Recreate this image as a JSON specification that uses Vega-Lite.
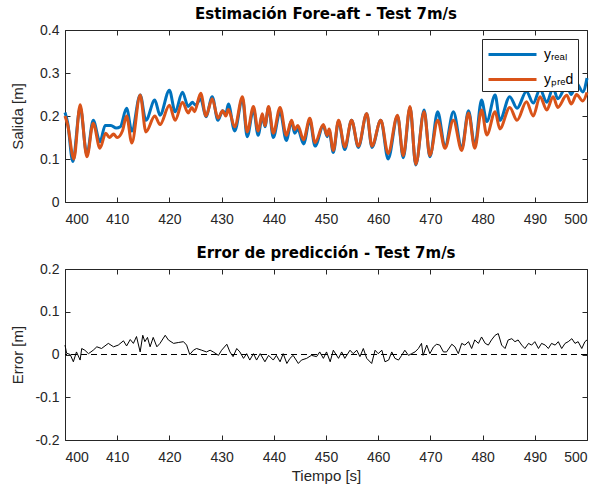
{
  "$schema": "https://vega.github.io/schema/vega-lite/v6.json",
  "padding": {"left": 9, "top": 6, "right": 5, "bottom": 5},
  "background": "white",
  "config": {
    "font": "Liberation Sans",
    "view": {"stroke": "#262626", "strokeWidth": 1},
    "axis": {"domain": false, "grid": false, "tickSize": -5, "tickColor": "#262626", "tickWidth": 1, "labelColor": "#262626", "labelFontSize": 14, "labelFont": "Liberation Sans", "titleFont": "Liberation Sans", "titleFontSize": 15, "titleFontWeight": "normal", "titleColor": "#262626"},
    "axisX": {"labelPadding": 15, "minExtent": 24, "maxExtent": 24},
    "axisY": {"labelPadding": 11, "minExtent": 34, "maxExtent": 34, "titlePadding": 6},
    "title": {"fontSize": 15, "fontWeight": "bold", "font": "DejaVu Sans", "color": "#000000", "anchor": "middle", "offset": 1}
  },
  "spacing": 18,
  "datasets": {
    "top": [
      {"t":400.0,"v":0.208,"s":"real"},{"t":400.5,"v":0.185,"s":"real"},{"t":401.5,"v":0.094,"s":"real"},{"t":402.9,"v":0.22,"s":"real"},{"t":404.2,"v":0.11,"s":"real"},{"t":405.4,"v":0.19,"s":"real"},{"t":406.7,"v":0.14,"s":"real"},{"t":407.7,"v":0.178,"s":"real"},{"t":408.8,"v":0.178,"s":"real"},{"t":409.8,"v":0.172,"s":"real"},{"t":410.6,"v":0.175,"s":"real"},{"t":411.8,"v":0.218,"s":"real"},{"t":412.8,"v":0.165,"s":"real"},{"t":414.4,"v":0.249,"s":"real"},{"t":415.5,"v":0.19,"s":"real"},{"t":417.2,"v":0.237,"s":"real"},{"t":418.2,"v":0.202,"s":"real"},{"t":420.0,"v":0.26,"s":"real"},{"t":421.1,"v":0.21,"s":"real"},{"t":422.5,"v":0.255,"s":"real"},{"t":423.6,"v":0.222,"s":"real"},{"t":424.4,"v":0.232,"s":"real"},{"t":425.0,"v":0.225,"s":"real"},{"t":426.0,"v":0.24,"s":"real"},{"t":427.0,"v":0.198,"s":"real"},{"t":428.2,"v":0.245,"s":"real"},{"t":429.3,"v":0.19,"s":"real"},{"t":430.2,"v":0.212,"s":"real"},{"t":430.8,"v":0.205,"s":"real"},{"t":431.3,"v":0.228,"s":"real"},{"t":432.5,"v":0.165,"s":"real"},{"t":434.0,"v":0.24,"s":"real"},{"t":434.9,"v":0.152,"s":"real"},{"t":436.1,"v":0.215,"s":"real"},{"t":437.0,"v":0.155,"s":"real"},{"t":437.8,"v":0.2,"s":"real"},{"t":438.3,"v":0.175,"s":"real"},{"t":439.0,"v":0.22,"s":"real"},{"t":439.9,"v":0.15,"s":"real"},{"t":441.2,"v":0.21,"s":"real"},{"t":442.4,"v":0.143,"s":"real"},{"t":443.4,"v":0.188,"s":"real"},{"t":444.0,"v":0.16,"s":"real"},{"t":444.6,"v":0.17,"s":"real"},{"t":445.7,"v":0.135,"s":"real"},{"t":446.9,"v":0.19,"s":"real"},{"t":447.9,"v":0.13,"s":"real"},{"t":449.5,"v":0.178,"s":"real"},{"t":450.2,"v":0.152,"s":"real"},{"t":450.6,"v":0.165,"s":"real"},{"t":451.4,"v":0.115,"s":"real"},{"t":452.4,"v":0.188,"s":"real"},{"t":453.6,"v":0.122,"s":"real"},{"t":454.9,"v":0.19,"s":"real"},{"t":456.2,"v":0.127,"s":"real"},{"t":457.8,"v":0.205,"s":"real"},{"t":458.8,"v":0.127,"s":"real"},{"t":460.5,"v":0.19,"s":"real"},{"t":461.9,"v":0.1,"s":"real"},{"t":463.7,"v":0.2,"s":"real"},{"t":464.8,"v":0.103,"s":"real"},{"t":466.1,"v":0.22,"s":"real"},{"t":467.2,"v":0.086,"s":"real"},{"t":468.8,"v":0.214,"s":"real"},{"t":469.9,"v":0.105,"s":"real"},{"t":471.4,"v":0.21,"s":"real"},{"t":472.8,"v":0.128,"s":"real"},{"t":474.4,"v":0.21,"s":"real"},{"t":476.0,"v":0.125,"s":"real"},{"t":477.3,"v":0.212,"s":"real"},{"t":478.5,"v":0.13,"s":"real"},{"t":479.8,"v":0.237,"s":"real"},{"t":480.8,"v":0.187,"s":"real"},{"t":482.4,"v":0.249,"s":"real"},{"t":483.3,"v":0.19,"s":"real"},{"t":485.2,"v":0.245,"s":"real"},{"t":486.6,"v":0.218,"s":"real"},{"t":488.4,"v":0.257,"s":"real"},{"t":489.7,"v":0.23,"s":"real"},{"t":491.0,"v":0.262,"s":"real"},{"t":492.3,"v":0.232,"s":"real"},{"t":493.5,"v":0.265,"s":"real"},{"t":494.4,"v":0.24,"s":"real"},{"t":496.1,"v":0.27,"s":"real"},{"t":497.0,"v":0.25,"s":"real"},{"t":498.0,"v":0.276,"s":"real"},{"t":499.2,"v":0.256,"s":"real"},{"t":500.0,"v":0.288,"s":"real"},
      {"t":400.0,"v":0.2,"s":"pred"},{"t":400.5,"v":0.18,"s":"pred"},{"t":401.7,"v":0.1,"s":"pred"},{"t":402.9,"v":0.226,"s":"pred"},{"t":404.2,"v":0.105,"s":"pred"},{"t":405.4,"v":0.183,"s":"pred"},{"t":406.7,"v":0.125,"s":"pred"},{"t":407.8,"v":0.16,"s":"pred"},{"t":408.5,"v":0.15,"s":"pred"},{"t":409.3,"v":0.158,"s":"pred"},{"t":410.0,"v":0.15,"s":"pred"},{"t":411.0,"v":0.165,"s":"pred"},{"t":411.8,"v":0.2,"s":"pred"},{"t":412.8,"v":0.137,"s":"pred"},{"t":414.4,"v":0.249,"s":"pred"},{"t":415.5,"v":0.163,"s":"pred"},{"t":417.2,"v":0.2,"s":"pred"},{"t":418.2,"v":0.18,"s":"pred"},{"t":420.0,"v":0.225,"s":"pred"},{"t":421.1,"v":0.19,"s":"pred"},{"t":422.5,"v":0.232,"s":"pred"},{"t":423.6,"v":0.207,"s":"pred"},{"t":424.3,"v":0.22,"s":"pred"},{"t":424.8,"v":0.21,"s":"pred"},{"t":426.0,"v":0.253,"s":"pred"},{"t":427.0,"v":0.2,"s":"pred"},{"t":428.2,"v":0.24,"s":"pred"},{"t":429.3,"v":0.195,"s":"pred"},{"t":430.2,"v":0.212,"s":"pred"},{"t":430.8,"v":0.2,"s":"pred"},{"t":431.3,"v":0.215,"s":"pred"},{"t":432.5,"v":0.175,"s":"pred"},{"t":434.0,"v":0.245,"s":"pred"},{"t":434.9,"v":0.163,"s":"pred"},{"t":436.1,"v":0.222,"s":"pred"},{"t":437.0,"v":0.165,"s":"pred"},{"t":437.8,"v":0.205,"s":"pred"},{"t":438.3,"v":0.178,"s":"pred"},{"t":439.0,"v":0.222,"s":"pred"},{"t":439.9,"v":0.16,"s":"pred"},{"t":441.2,"v":0.22,"s":"pred"},{"t":442.4,"v":0.155,"s":"pred"},{"t":443.4,"v":0.19,"s":"pred"},{"t":444.0,"v":0.168,"s":"pred"},{"t":444.6,"v":0.178,"s":"pred"},{"t":445.7,"v":0.145,"s":"pred"},{"t":446.9,"v":0.195,"s":"pred"},{"t":447.9,"v":0.138,"s":"pred"},{"t":449.5,"v":0.18,"s":"pred"},{"t":450.2,"v":0.155,"s":"pred"},{"t":450.6,"v":0.17,"s":"pred"},{"t":451.4,"v":0.12,"s":"pred"},{"t":452.4,"v":0.19,"s":"pred"},{"t":453.6,"v":0.128,"s":"pred"},{"t":454.9,"v":0.19,"s":"pred"},{"t":456.2,"v":0.13,"s":"pred"},{"t":457.8,"v":0.206,"s":"pred"},{"t":458.8,"v":0.13,"s":"pred"},{"t":460.5,"v":0.19,"s":"pred"},{"t":461.9,"v":0.113,"s":"pred"},{"t":463.7,"v":0.202,"s":"pred"},{"t":464.8,"v":0.108,"s":"pred"},{"t":466.1,"v":0.222,"s":"pred"},{"t":467.2,"v":0.088,"s":"pred"},{"t":468.8,"v":0.21,"s":"pred"},{"t":469.9,"v":0.108,"s":"pred"},{"t":471.4,"v":0.19,"s":"pred"},{"t":472.8,"v":0.125,"s":"pred"},{"t":474.4,"v":0.19,"s":"pred"},{"t":476.0,"v":0.12,"s":"pred"},{"t":477.3,"v":0.207,"s":"pred"},{"t":478.5,"v":0.125,"s":"pred"},{"t":479.8,"v":0.214,"s":"pred"},{"t":480.8,"v":0.156,"s":"pred"},{"t":482.4,"v":0.21,"s":"pred"},{"t":483.3,"v":0.17,"s":"pred"},{"t":485.2,"v":0.22,"s":"pred"},{"t":486.6,"v":0.19,"s":"pred"},{"t":488.4,"v":0.233,"s":"pred"},{"t":489.7,"v":0.2,"s":"pred"},{"t":491.0,"v":0.245,"s":"pred"},{"t":492.3,"v":0.214,"s":"pred"},{"t":493.5,"v":0.245,"s":"pred"},{"t":494.4,"v":0.22,"s":"pred"},{"t":496.1,"v":0.248,"s":"pred"},{"t":497.0,"v":0.228,"s":"pred"},{"t":498.0,"v":0.25,"s":"pred"},{"t":499.2,"v":0.235,"s":"pred"},{"t":500.0,"v":0.255,"s":"pred"}
    ],
    "err": [
      {"t":400.0,"e":0.022},{"t":400.3,"e":0.003},{"t":401.0,"e":0.0},{"t":401.6,"e":-0.017},{"t":402.2,"e":0.006},{"t":402.9,"e":-0.013},{"t":403.2,"e":0.014},{"t":403.8,"e":0.01},{"t":404.5,"e":0.002},{"t":405.4,"e":0.01},{"t":406.1,"e":0.018},{"t":407.0,"e":0.014},{"t":408.3,"e":0.026},{"t":409.3,"e":0.018},{"t":410.2,"e":0.022},{"t":411.2,"e":0.032},{"t":411.8,"e":0.02},{"t":412.5,"e":0.035},{"t":413.1,"e":0.026},{"t":413.7,"e":0.042},{"t":414.4,"e":0.006},{"t":414.9,"e":0.045},{"t":415.3,"e":0.03},{"t":415.8,"e":0.04},{"t":416.3,"e":0.018},{"t":416.9,"e":0.04},{"t":417.6,"e":0.018},{"t":418.2,"e":0.026},{"t":419.2,"e":0.045},{"t":419.8,"e":0.034},{"t":420.8,"e":0.026},{"t":421.7,"e":0.028},{"t":422.7,"e":0.03},{"t":423.3,"e":0.022},{"t":423.9,"e":0.0},{"t":424.6,"e":0.01},{"t":425.2,"e":0.014},{"t":426.2,"e":0.01},{"t":427.1,"e":0.006},{"t":427.8,"e":0.01},{"t":428.4,"e":0.006},{"t":429.4,"e":-0.002},{"t":430.0,"e":0.01},{"t":431.0,"e":0.024},{"t":431.6,"e":0.006},{"t":432.2,"e":-0.005},{"t":432.9,"e":0.014},{"t":433.5,"e":0.006},{"t":434.2,"e":-0.009},{"t":434.8,"e":0.002},{"t":435.4,"e":-0.013},{"t":436.1,"e":0.002},{"t":436.7,"e":-0.013},{"t":437.4,"e":0.002},{"t":438.3,"e":-0.017},{"t":439.0,"e":-0.002},{"t":439.9,"e":-0.013},{"t":440.5,"e":-0.002},{"t":441.2,"e":-0.017},{"t":441.8,"e":0.002},{"t":442.5,"e":-0.021},{"t":443.1,"e":-0.009},{"t":443.7,"e":-0.002},{"t":444.7,"e":-0.021},{"t":445.3,"e":-0.013},{"t":446.3,"e":-0.009},{"t":447.2,"e":-0.002},{"t":448.2,"e":-0.005},{"t":448.8,"e":0.006},{"t":449.5,"e":-0.009},{"t":450.1,"e":0.006},{"t":450.8,"e":-0.017},{"t":451.4,"e":0.01},{"t":452.4,"e":-0.009},{"t":453.0,"e":0.006},{"t":453.6,"e":-0.009},{"t":454.6,"e":0.01},{"t":455.2,"e":0.002},{"t":455.9,"e":0.01},{"t":456.5,"e":-0.005},{"t":457.15,"e":0.014},{"t":457.8,"e":-0.009},{"t":458.75,"e":-0.021},{"t":459.4,"e":0.01},{"t":460.0,"e":0.002},{"t":460.7,"e":0.01},{"t":461.3,"e":-0.017},{"t":462.0,"e":-0.013},{"t":462.6,"e":0.006},{"t":463.2,"e":-0.009},{"t":463.9,"e":-0.013},{"t":464.5,"e":-0.002},{"t":465.1,"e":0.01},{"t":465.8,"e":-0.002},{"t":466.4,"e":0.002},{"t":467.05,"e":0.006},{"t":467.7,"e":0.014},{"t":468.3,"e":0.026},{"t":468.6,"e":-0.002},{"t":469.3,"e":0.022},{"t":469.9,"e":0.002},{"t":470.6,"e":0.018},{"t":471.2,"e":0.024},{"t":471.8,"e":0.022},{"t":472.5,"e":0.006},{"t":473.1,"e":0.006},{"t":474.1,"e":0.024},{"t":474.7,"e":0.018},{"t":475.35,"e":0.002},{"t":476.0,"e":0.026},{"t":476.6,"e":0.022},{"t":477.3,"e":0.03},{"t":477.9,"e":0.014},{"t":478.5,"e":0.034},{"t":479.2,"e":0.026},{"t":479.8,"e":0.041},{"t":480.5,"e":0.026},{"t":481.1,"e":0.022},{"t":481.7,"e":0.034},{"t":482.4,"e":0.045},{"t":483.0,"e":0.049},{"t":483.65,"e":0.022},{"t":484.3,"e":0.014},{"t":484.9,"e":0.034},{"t":485.6,"e":0.037},{"t":486.2,"e":0.03},{"t":486.8,"e":0.034},{"t":487.5,"e":0.022},{"t":488.1,"e":0.014},{"t":488.8,"e":0.026},{"t":489.4,"e":0.022},{"t":490.0,"e":0.03},{"t":490.7,"e":0.014},{"t":491.3,"e":0.026},{"t":492.0,"e":0.022},{"t":492.6,"e":0.014},{"t":493.2,"e":0.026},{"t":493.9,"e":0.022},{"t":494.5,"e":0.03},{"t":495.15,"e":0.014},{"t":495.8,"e":0.026},{"t":496.4,"e":0.03},{"t":497.1,"e":0.037},{"t":497.7,"e":0.026},{"t":498.3,"e":0.03},{"t":499.0,"e":0.014},{"t":499.6,"e":0.03},{"t":500.0,"e":0.034}
    ]
  },
  "vconcat": [
    {
      "width": 522,
      "height": 172,
      "title": {"text": "Estimación Fore-aft - Test 7m/s"},
      "data": {"name": "top"},
      "resolve": {"axis": {"x": "independent", "y": "independent"}},
      "layer": [
        {
          "transform": [{"filter": "datum.s === 'real'"}],
          "mark": {"type": "line", "strokeWidth": 3, "interpolate": "monotone"},
          "encoding": {
            "x": {"field": "t", "type": "quantitative", "scale": {"domain": [400, 500], "nice": false}, "axis": {"orient": "bottom", "values": [400, 410, 420, 430, 440, 450, 460, 470, 480, 490, 500], "title": null}},
            "y": {"field": "v", "type": "quantitative", "scale": {"domain": [0, 0.4], "nice": false, "zero": false}, "axis": {"orient": "left", "values": [0, 0.1, 0.2, 0.3, 0.4], "format": "~g", "title": "Salida [m]"}},
            "color": {"field": "s", "type": "nominal", "scale": {"domain": ["real", "pred"], "range": ["#0072BD", "#D95319"]},
              "legend": {"orient": "none", "legendX": 417, "legendY": 9, "title": null, "direction": "vertical", "symbolType": "M-2.4,0H2.4", "symbolSize": 400, "symbolOffset": 15, "symbolStrokeWidth": 3, "labelFontSize": 14, "labelColor": "#000000", "labelFont": "Liberation Sans", "labelOffset": 20, "strokeColor": "#262626", "fillColor": "white", "padding": 4, "rowPadding": 6,
                "labelExpr": "datum.label === 'real' ? 'yᵣₑₐₗ' : 'yₚᵣₑd'"}}
          }
        },
        {
          "transform": [{"filter": "datum.s === 'pred'"}],
          "mark": {"type": "line", "strokeWidth": 3, "interpolate": "monotone"},
          "encoding": {
            "x": {"field": "t", "type": "quantitative", "axis": {"orient": "top", "values": [400, 410, 420, 430, 440, 450, 460, 470, 480, 490, 500], "labels": false, "title": null, "minExtent": 0, "maxExtent": 0}},
            "y": {"field": "v", "type": "quantitative", "axis": {"orient": "right", "values": [0, 0.1, 0.2, 0.3, 0.4], "labels": false, "title": null, "minExtent": 0, "maxExtent": 0}},
            "color": {"field": "s", "type": "nominal"}
          }
        }
      ]
    },
    {
      "width": 522,
      "height": 171,
      "title": {"text": "Error de predicción - Test 7m/s"},
      "resolve": {"axis": {"x": "independent", "y": "independent"}},
      "layer": [
        {
          "data": {"values": [{}]},
          "mark": {"type": "rule", "strokeDash": [6, 4], "color": "#000000", "strokeWidth": 1},
          "encoding": {"y": {"datum": 0, "type": "quantitative", "axis": null}}
        },
        {
          "data": {"name": "err"},
          "mark": {"type": "line", "strokeWidth": 1, "color": "#000000"},
          "encoding": {
            "x": {"field": "t", "type": "quantitative", "scale": {"domain": [400, 500], "nice": false}, "axis": {"orient": "bottom", "values": [400, 410, 420, 430, 440, 450, 460, 470, 480, 490, 500], "title": "Tiempo [s]", "titlePadding": 4}},
            "y": {"field": "e", "type": "quantitative", "scale": {"domain": [-0.2, 0.2], "nice": false, "zero": false}, "axis": {"orient": "left", "values": [-0.2, -0.1, 0, 0.1, 0.2], "labelExpr": "replace(format(datum.value, '~g'), '−', '-')", "title": "Error [m]"}}
          }
        },
        {
          "data": {"name": "err"},
          "mark": {"type": "line", "strokeWidth": 1, "opacity": 0},
          "encoding": {
            "x": {"field": "t", "type": "quantitative", "axis": {"orient": "top", "values": [400, 410, 420, 430, 440, 450, 460, 470, 480, 490, 500], "labels": false, "title": null, "minExtent": 0, "maxExtent": 0}},
            "y": {"field": "e", "type": "quantitative", "axis": {"orient": "right", "values": [-0.2, -0.1, 0, 0.1, 0.2], "labels": false, "title": null, "minExtent": 0, "maxExtent": 0}}
          }
        }
      ]
    }
  ]
}
